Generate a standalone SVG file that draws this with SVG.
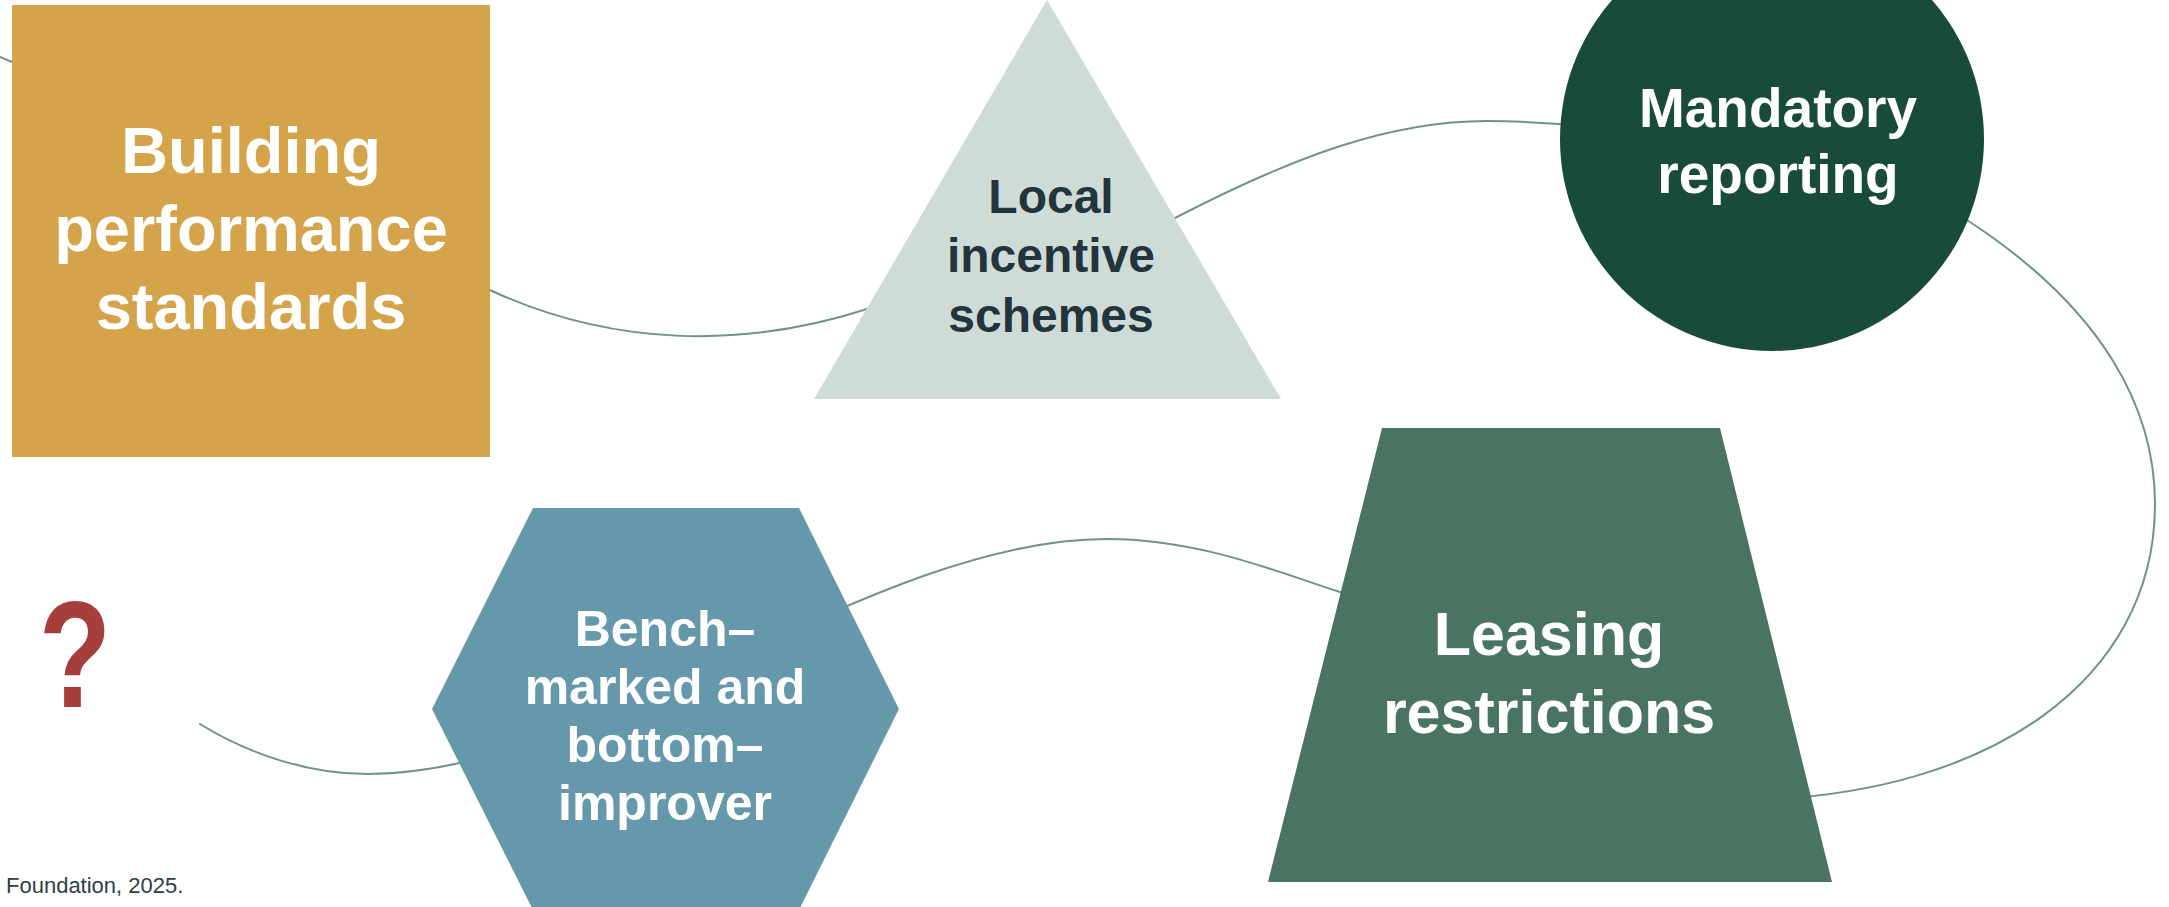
<svg xmlns="http://www.w3.org/2000/svg" width="2169" height="907" viewBox="0 0 2169 907">
  <style>
    .conn { fill: none; stroke: #6E9488; stroke-width: 2; stroke-linecap: round; }
    .lbl { font-family: "Liberation Sans", Arial, sans-serif; font-weight: bold; text-anchor: middle; }
    .white { fill: #FFFFFF; }
    .dark { fill: #22343C; }
  </style>
  <rect width="2169" height="907" fill="#FFFFFF"/>

  <g id="connectors">
    <path class="conn" d="M 200,724 C 250,755 310,774 367,774 C 600,774 870,539 1107,539 C 1200,539 1280,573 1340,592 C 1460,629 1620,800 1750,800 C 1990,795 2155,680 2155,504 C 2155,410 2105,310 1967,220 C 1900,170 1650,125 1560,124 C 1530,122 1510,121 1487,121 C 1390,121 1295,156 1175,218 C 1075,270 947,285 867,309 C 740,350 610,345 492,291 C 372,242 112,104 12,62 L 0,57"/>
  </g>

  <g id="node-building">
    <rect x="12" y="5" width="478" height="452" fill="#D5A34A"/>
    <text class="lbl white" font-size="65"><tspan x="251" y="173">Building</tspan><tspan x="251" y="251">performance</tspan><tspan x="251" y="329">standards</tspan></text>
  </g>

  <g id="node-local">
    <polygon points="1047,0 1281,399 814,399" fill="#CFDBD7"/>
    <text class="lbl dark" font-size="48"><tspan x="1051" y="213">Local</tspan><tspan x="1051" y="272">incentive</tspan><tspan x="1051" y="332">schemes</tspan></text>
  </g>

  <g id="node-mandatory">
    <circle cx="1772" cy="139" r="212" fill="#194B3C"/>
    <text class="lbl white" font-size="55"><tspan x="1778" y="127">Mandatory</tspan><tspan x="1778" y="193">reporting</tspan></text>
  </g>

  <g id="node-leasing">
    <polygon points="1382,428 1720,428 1832,882 1268,882" fill="#497462"/>
    <text class="lbl white" font-size="61"><tspan x="1549" y="655">Leasing</tspan><tspan x="1549" y="733">restrictions</tspan></text>
  </g>

  <g id="node-benchmarked">
    <polygon points="533,508 799,508 899,709 799,910 533,910 432,709" fill="#6698AC"/>
    <text class="lbl white" font-size="50"><tspan x="665" y="646">Bench–</tspan><tspan x="665" y="704">marked and</tspan><tspan x="665" y="762">bottom–</tspan><tspan x="665" y="820">improver</tspan></text>
  </g>

  <g id="node-question">
    <text class="lbl" fill="#A63F3B" font-size="152" transform="translate(75,707) scale(0.78,1)" x="0" y="0">?</text>
  </g>

  <g id="footer">
    <text x="6" y="893" font-family="'Liberation Sans', Arial, sans-serif" font-size="22" fill="#2D3E45">Foundation, 2025.</text>
  </g>
</svg>
